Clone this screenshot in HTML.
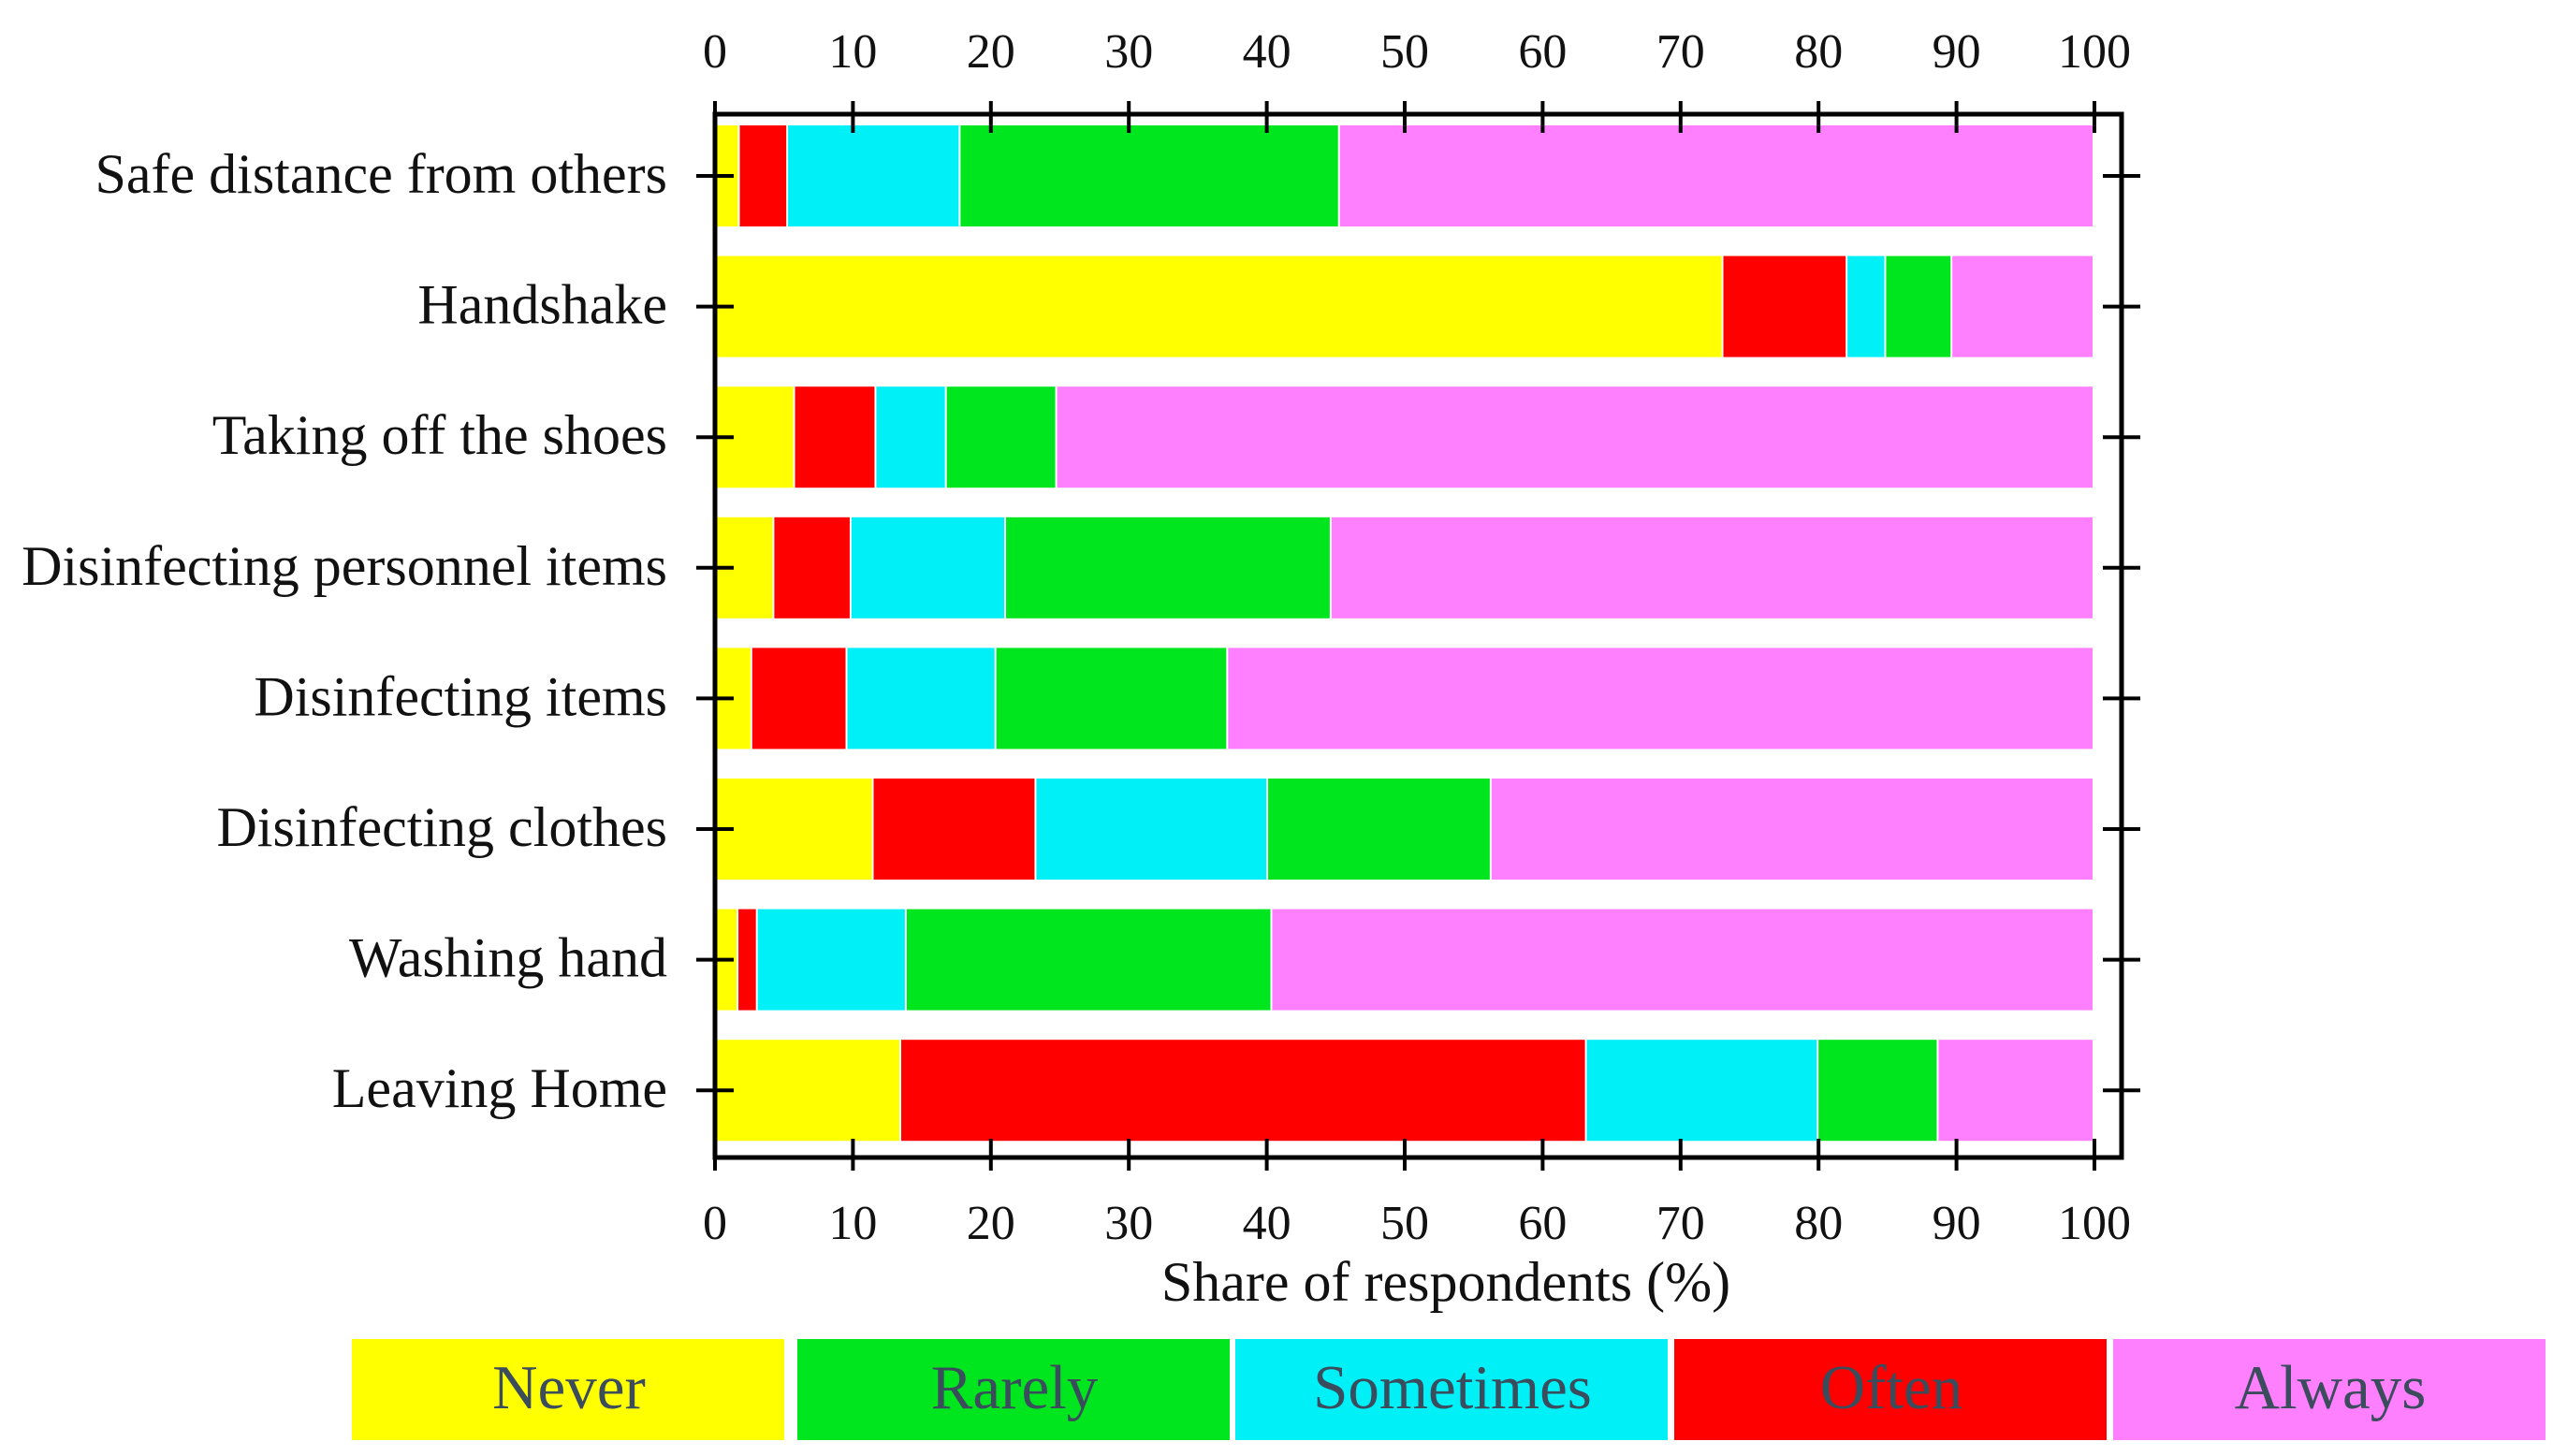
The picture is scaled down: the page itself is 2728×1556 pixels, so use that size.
<!DOCTYPE html>
<html><head><meta charset="utf-8"><style>
html,body{margin:0;padding:0;background:#fff;}
svg{display:block;font-family:"Liberation Serif",serif;}
</style></head><body>
<svg id="chart" width="2728" height="1556" viewBox="0 0 2728 1556"></svg>
<script>
const categories=["Safe distance from others","Handshake","Taking off the shoes","Disinfecting personnel items","Disinfecting items","Disinfecting clothes","Washing hand","Leaving Home"];
const never=[1.8,73.1,5.8,4.3,2.7,11.5,1.7,13.5];
const often=[3.5,9.0,5.9,5.6,6.9,11.8,1.4,49.7];
const sometimes=[12.5,2.8,5.1,11.2,10.8,16.8,10.8,16.8];
const rarely=[27.5,4.8,8.0,23.6,16.8,16.2,26.5,8.7];
const always=[54.7,10.3,75.2,55.3,62.8,43.7,59.6,11.3];
const xTicks=[0,10,20,30,40,50,60,70,80,90,100];
const legendLabels=["Never","Rarely","Sometimes","Often","Always"];

const svg=document.getElementById('chart');
const NS="http://www.w3.org/2000/svg";
function mk(t,a,p){const e=document.createElementNS(NS,t);for(const k in a)e.setAttribute(k,a[k]);(p||svg).appendChild(e);return e;}
const X0=764,X1=2238,FL=764,FR=2267,FT=122,FB=1237;
const xs=v=>X0+(X1-X0)*v/100;
const yc=i=>188+i*139.6;
const BH=108;
const colors={never:"#ffff00",often:"#ff0000",sometimes:"#00f0f8",rarely:"#00e61e",always:"#ff80ff"};
const series=[["never",never],["often",often],["sometimes",sometimes],["rarely",rarely],["always",always]];
categories.forEach((c,i)=>{
  let acc=0;
  series.forEach(([n,arr])=>{
    const r=mk('rect',{x:xs(acc),y:yc(i)-BH/2,width:Math.max(0,xs(acc+arr[i])-xs(acc)-2),height:BH,fill:colors[n]});
    
    
    acc+=arr[i];
  });
  const t=mk('text',{x:713,y:yc(i)+18,'text-anchor':'end','font-size':60,fill:'#111'});
  t.textContent=c;
  
  
  mk('line',{x1:FL-20,x2:FL+20,y1:yc(i),y2:yc(i),stroke:'#000','stroke-width':4});
  mk('line',{x1:FR-20,x2:FR+20,y1:yc(i),y2:yc(i),stroke:'#000','stroke-width':4});
});
const fr=mk('rect',{x:FL,y:FT,width:FR-FL,height:FB-FT,fill:'none',stroke:'#000','stroke-width':5});


xTicks.forEach(v=>{
  mk('line',{x1:xs(v),x2:xs(v),y1:FT-14,y2:FT+20,stroke:'#000','stroke-width':4});
  mk('line',{x1:xs(v),x2:xs(v),y1:FB-20,y2:FB+14,stroke:'#000','stroke-width':4});
  const a=mk('text',{x:xs(v),y:72,'text-anchor':'middle','font-size':52,fill:'#111'});a.textContent=v;
  
  
  const b=mk('text',{x:xs(v),y:1324,'text-anchor':'middle','font-size':52,fill:'#111'});b.textContent=v;
  
  
});
const ti=mk('text',{x:1545,y:1390,'text-anchor':'middle','font-size':60,fill:'#111'});
ti.textContent="Share of respondents (%)";


const legCols=["#ffff00","#00e61e","#00f0f8","#ff0000","#ff80ff"];
const legX=[376,852,1320,1789,2258];
legendLabels.forEach((l,i)=>{
  const r=mk('rect',{x:legX[i],y:1431,width:462,height:108,fill:legCols[i]});
  
  
  const t=mk('text',{x:legX[i]+232,y:1505,'text-anchor':'middle','font-size':67,fill:'#3b4c5c'});
  t.textContent=l;
  
  
});
</script>
</body></html>
